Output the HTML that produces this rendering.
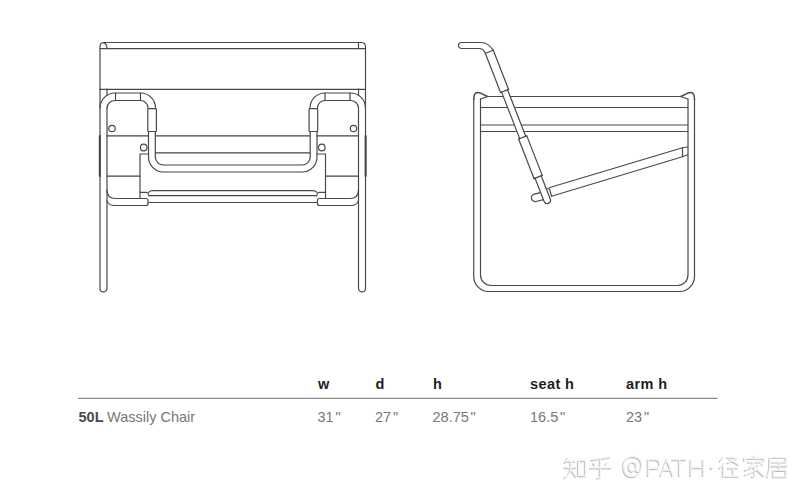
<!DOCTYPE html>
<html><head><meta charset="utf-8">
<style>
html,body{margin:0;padding:0;background:#fff;width:809px;height:500px;overflow:hidden}
svg{display:block}
</style></head>
<body>
<svg width="809" height="500" viewBox="0 0 809 500">
<rect width="809" height="500" fill="#fff"/>
<filter id="soft" x="-5%" y="-5%" width="110%" height="110%"><feGaussianBlur stdDeviation="0.45"/></filter>
<g fill="none" stroke="#484848" stroke-width="1.2" stroke-linecap="round" stroke-linejoin="round" filter="url(#soft)">
<!-- ===== FRONT VIEW ===== -->
<!-- back rect -->
<path d="M100,89 V47 Q100,42.5 104,42.5 H361.5 Q365.5,42.5 365.5,47 V89"/>
<path d="M103.5,42.6 Q107,43.5 107,48.6"/>
<path d="M358.5,42.6 V48.6"/>
<path d="M100,48.6 H365.5"/>
<path d="M100,89.3 H365.5"/>
<g id="fhalf">
  <!-- leg -->
  <path d="M100,89 V288.4 A3.5,3.5 0 0 0 107,288.4 V108 M107,89 V95.3"/>
  <path d="M99.8,136 V176" stroke-width="2" stroke="#444"/>
  <!-- arm U -->
  <path d="M100,108 A15,15 0 0 1 115,93 H140.5 A15,15 0 0 1 155.5,108" />
  <path d="M107,108 A8,7.5 0 0 1 115,100.5 H140.5 A7.5,7.5 0 0 1 148,108" />
  <path d="M115.5,93 V100.5 M140.5,93 V100.5"/>
  <rect x="147.8" y="108.6" width="8.6" height="22.9" rx="0.8" fill="#fff"/>
  <!-- tube down and U bottom -->
  <path d="M148.5,131.5 V157 A15,15 0 0 0 163.5,172"/>
  <path d="M155.3,131.5 V157 A8.2,8 0 0 0 163.5,165"/>
  <!-- horizontals -->
  <path d="M107,135.9 H148.5"/>
  
  <path d="M140,154 H148.5 M140,154 V198.5"/>
  <path d="M107,176.2 H140"/>
  <circle cx="112" cy="128.5" r="3.2"/>
  <circle cx="143.7" cy="147.5" r="3.3"/>
  <!-- seat rail block -->
  <path d="M107,190 Q107,198.5 115.5,198.5 H146 Q148,198.5 148,200.5 V203.5 Q148,205.5 146,205.5 H115 Q108,205.5 107,200.5"/>
  <!-- lower bar -->
  <path d="M140,192.3 H146.5 Q148.5,193 149,196"/>
  <path d="M148.5,192.3 Q150,190.6 153,190.6"/>
  
  
</g>
<use href="#fhalf" transform="translate(465.5,0) scale(-1,1)"/>
<path d="M163.5,172 H302 M163.5,165 H302 M155.3,135.9 H310.2 M155.3,152.8 H310.2 M153,190.6 H312.5 M149,195.7 H316.5 M148,202.5 H317.5" stroke-linecap="butt"/>
<!-- ===== SIDE VIEW ===== -->
<path d="M473.75,99 V276.5 A15,15 0 0 0 488.75,291.5 H679.5 A15,15 0 0 0 694.5,276.5 V99"/>
<path d="M480.5,99 V275 A10.5,10.5 0 0 0 491,285.5 H677.5 A10.5,10.5 0 0 0 688,275 V99"/>
<g id="postcap">
  <path d="M473.75,99.5 Q473.75,92.5 477.5,92.5 Q479,92.5 481,93.3 L487.5,96.5" stroke-width="1.5" stroke="#4a4a4a"/>
  <path d="M480.5,99 L487.5,96.5"/>
</g>
<use href="#postcap" transform="translate(1168.25,0) scale(-1,1)"/>
<path d="M487.5,96.5 H680.75 M480.5,107.5 H688 M480.5,125 H688 M480.5,131.5 H688"/>
<!-- seat rail -->
<path d="M549,187.8 L682.5,147.75 L687.75,147 M551.5,196.2 L682.5,156.75 L687.75,154.8" />
<path d="M682.5,147.75 L682.5,156.75"/>
<path d="M546.5,189 Q549,188.5 549.5,189 L551.5,196.2"/>
<!-- stub -->
<g transform="translate(542.5,196) rotate(-14)">
  <path d="M0,-3.8 H-7.5 A3.8,3.8 0 0 0 -7.5,3.8 H0" fill="#fff"/>
</g>
<!-- handle -->
<path d="M493.2,50.2 Q488,42.5 481,42.5 H461.5 A3,3 0 0 0 461.5,48.5 H480 Q483.5,49 485.4,53.3" fill="#fff"/>
<!-- diagonal tube -->
<g transform="translate(489.3,51.75) rotate(-21.3)">
  <path d="M-4.3,0 V42.1 H-3.2 V92 H-4.4 V134.4 H-3.3 V159.4 A3.3,3.3 0 0 0 3.3,159.4 V134.4 H4.4 V92 H3.2 V42.1 H4.3 V0 Z" fill="#fff"/>
  <path d="M-4.3,42.1 H4.3 M-4.4,92 H4.4 M-4.4,134.4 H4.4"/>
</g>
</g>
<!-- ===== TABLE ===== -->
<line x1="78" y1="398.3" x2="717.5" y2="398.3" stroke="#8a8a8a" stroke-width="1.3"/>
<g font-family="Liberation Sans, sans-serif" font-size="14.5">
  <g font-weight="bold" fill="#1e1e1e" letter-spacing="0.4">
    <text x="318" y="388.5">w</text>
    <text x="375.5" y="388.5">d</text>
    <text x="433" y="388.5">h</text>
    <text x="530" y="388.5">seat h</text>
    <text x="626" y="388.5">arm h</text>
  </g>
  <text x="78.5" y="422" font-weight="bold" fill="#4a4a4a">50L</text>
  <g fill="#777">
    <text x="107" y="422">Wassily Chair</text>
    <text x="317.5" y="422">31<tspan dx="1.8">"</tspan></text>
    <text x="375" y="422">27<tspan dx="1.8">"</tspan></text>
    <text x="432.5" y="422">28.75<tspan dx="1.8">"</tspan></text>
    <text x="530" y="422">16.5<tspan dx="1.8">"</tspan></text>
    <text x="626" y="422">23<tspan dx="1.8">"</tspan></text>
  </g>
</g>
<!-- ===== WATERMARK ===== -->
<defs>
<g id="wm">
  <g fill="none" stroke-width="1.5" stroke-linecap="butt">
    <!-- 知 -->
    <path d="M568,457.5 L565,463 M566,461 H575.5 M564.5,467.5 H576.5 M571,461 V468 Q570,474 564.5,478 M571.5,470 L576.5,477 M578.5,460.5 H585.5 V475.5 H578.5 Z"/>
    <!-- 乎 -->
    <path d="M610.4,457 L591.2,459.8 M593.4,462.6 L595.2,465.2 M607.5,461.9 L605.6,464.8 M590,467.8 H612 M600.4,459.6 V477.2 L596.7,478.2"/>
    <!-- 径 -->
    <path d="M723.9,456.4 L719.9,461.4 M724.4,462.9 L719.5,468.3 M723.4,464.8 V477.2 M726.9,457.4 H737.8 L727.4,462.9 M729.8,459.2 L739.2,464.8 M727.9,467.8 H738.2 M733.3,467.8 V476.2 M725.4,476.2 H739.7"/>
    <!-- 家 -->
    <path d="M754.1,455.9 L755,458 M744.7,460.9 V458.4 H764 V460.9 M748.1,461.9 H761.5 M754.6,461.9 L749.6,467.3 M758.5,464.8 L744.7,470.3 M759,468.8 L744.7,475.2 M754.6,465.8 V476 L751.6,476.7 M757.5,469.8 L764.4,476.2 M761.5,464.8 L764,463"/>
    <!-- 居 -->
    <path d="M769.9,457.4 H786.2 V461.9 H769.9 M769.9,457.4 V465.8 Q769.5,472 767.4,477.2 M771.4,465.8 H787.7 M779.3,461.9 V470.3 M773.4,470.3 H786.2 V476.7 H773.4 Z"/>
  </g>
  <path fill="none" stroke-width="1.5" d="M648.3,476 V459.5 H655 Q659.6,459.5 659.6,464 Q659.6,468.5 655,468.5 H648.3 M660.6,476 L666.8,459.5 L673,476 M663,470 H670.6 M672.4,459.5 H686.6 M679.5,459.5 V476 M691,459.5 V476 M703.3,459.5 V476 M691,467.6 H703.3"/>
  <path fill="none" stroke-width="1.5" d="M638.5,473.5 Q636,476.5 632.5,476.5 Q623.8,476.5 623.8,466.5 Q623.8,456.5 632.8,456.5 Q641.5,456.5 641.5,465 Q641.5,471.5 638,471.5 Q636.3,471.5 636.3,469 L637,462.5 M636.6,465.5 Q635.5,462 632.8,462 Q629,462 629,467 Q629,471 632,471 Q635.5,471 636.5,466.5"/>
  <circle cx="711.8" cy="467.7" r="1.1"/>
</g>
</defs>
<use href="#wm" transform="translate(-0.9,0.9)" fill="#b9b9b9" stroke="#b9b9b9"/>
<use href="#wm" fill="#f4f4f4" stroke="#f4f4f4"/>
</svg>
</body></html>
